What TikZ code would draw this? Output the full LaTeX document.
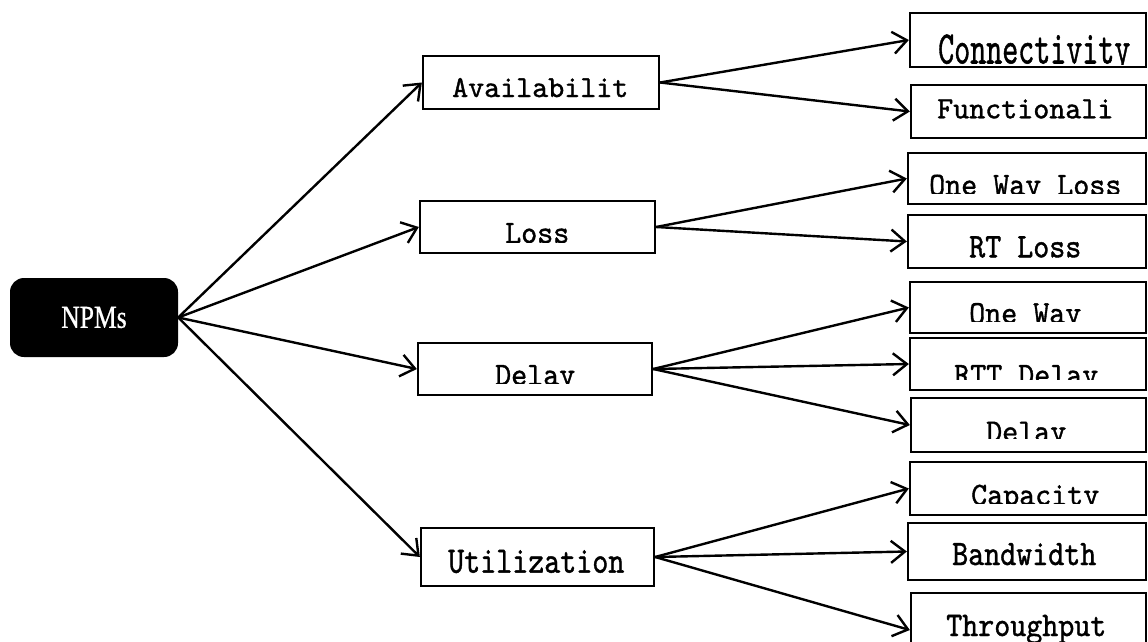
\documentclass[tikz,border=0pt]{standalone}
\usepackage{fontspec}
\usepackage{graphicx}
\usetikzlibrary{arrows.meta}
\newfontfamily\serifcond{Liberation Serif}[FakeBold=0.8]
\newfontfamily\monob{lmmono10-regular.otf}[FakeBold=1.2]
\tikzset{
  boxst/.style={draw, line width=2.3pt, inner sep=0pt, fill=white},
  lbl/.style={inner sep=0pt, anchor=base west, font=\monob\fontsize{30.5}{33}\selectfont},
  arr/.style={line width=2.4pt, -{Straight Barb[length=14pt,width=22pt,line width=2.4pt]}}
}
\newcommand\cliptext[6]{%
  \begin{scope}
    \clip (0,0) rectangle (1148,#4);
    \node[lbl] (#1) at (#2,#3) {\scalebox{1}[#5]{#6}};
  \end{scope}}
\begin{document}
\begin{tikzpicture}[x=1pt,y=-1pt]
\useasboundingbox (0,0) rectangle (1148,642);
\clip (0,0) rectangle (1148,642);

% root
\node[fill=black, rounded corners=14pt, minimum width=168pt, minimum height=79pt, inner sep=0pt,
      text=white, font=\serifcond\fontsize{32}{34}\selectfont] (npm) at (94,317.5) {\scalebox{0.8}[1]{NPMs}};

% middle boxes
\node[boxst, minimum width=236pt, minimum height=53pt] (avail) at (541,82.5) {};
\node[boxst, minimum width=235pt, minimum height=52pt] (loss) at (537.5,227) {};
\node[boxst, minimum width=234pt, minimum height=52pt] (delay) at (535,369) {};
\node[boxst, minimum width=233pt, minimum height=58pt] (util) at (537.5,557) {};

% leaf boxes
\node[boxst, minimum width=236pt, minimum height=54pt] (conn) at (1028,40) {};
\node[boxst, minimum width=235pt, minimum height=53pt] (func) at (1028.5,111.5) {};
\node[boxst, minimum width=238pt, minimum height=51pt] (owl) at (1027,178.5) {};
\node[boxst, minimum width=238pt, minimum height=53pt] (rtl) at (1027,241.5) {};
\node[boxst, minimum width=236pt, minimum height=51pt] (ow) at (1028,307.5) {};
\node[boxst, minimum width=236pt, minimum height=52pt] (rttd) at (1028,364) {};
\node[boxst, minimum width=235pt, minimum height=54pt] (dly) at (1028.5,425) {};
\node[boxst, minimum width=236pt, minimum height=53pt] (cap) at (1028,488.5) {};
\node[boxst, minimum width=238pt, minimum height=57pt] (bw) at (1027,551.5) {};
\node[boxst, minimum width=235pt, minimum height=74pt] (thr) at (1028.5,630) {};

% texts
\cliptext{t-avail}{452}{97}{110}{1.0}{Availabilit}
\cliptext{t-loss}{505}{243}{242}{1.07}{Loss}
\cliptext{t-delay}{495}{385}{383.3}{1.07}{Delay}
\cliptext{t-util}{448}{572.7}{590}{1.22}{Utilization}
\cliptext{t-conn}{938}{63.5}{64.5}{1.53}{Connectivity}
\cliptext{t-func}{937}{118.3}{140}{1.02}{Functionali}
\cliptext{t-owl}{929}{195}{193.3}{1.07}{One Way Loss}
\cliptext{t-rtl}{969}{257.3}{270}{1.13}{RT Loss}
\cliptext{t-ow}{969}{323.3}{321.7}{1.07}{One Way}
\cliptext{t-rttd}{954}{385}{379.3}{1.07}{RTT Delay}
\cliptext{t-dly}{986}{441.7}{438.3}{1.07}{Delay}
\cliptext{t-cap}{971}{505}{503.3}{1.07}{Capacity}
\cliptext{t-bw}{952}{565}{582}{1.17}{Bandwidth}
\cliptext{t-thr}{946}{636}{642}{1.13}{Throughput}

% connectors
\draw[arr] (npm.east) -- (avail.west);
\draw[arr] (npm.east) -- (loss.west);
\draw[arr] (npm.east) -- (delay.west);
\draw[arr] (npm.east) -- (util.west);

\draw[arr] (avail.east) -- (conn.west);
\draw[arr] (avail.east) -- (func.west);
\draw[arr] (loss.east) -- (owl.west);
\draw[arr] (loss.east) -- (rtl.west);
\draw[arr] (delay.east) -- (ow.west);
\draw[arr] (delay.east) -- (rttd.west);
\draw[arr] (delay.east) -- (dly.west);
\draw[arr] (util.east) -- (cap.west);
\draw[arr] (util.east) -- (bw.west);
\draw[arr] (util.east) -- (thr.west);
\end{tikzpicture}
\end{document}
